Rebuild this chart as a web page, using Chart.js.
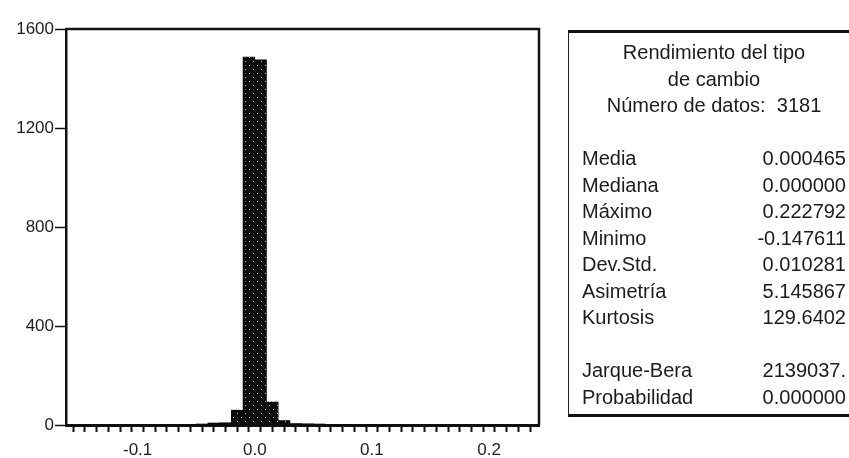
<!DOCTYPE html>
<html>
<head>
<meta charset="utf-8">
<script src="https://cdn.jsdelivr.net/npm/chart.js@4.4.1/dist/chart.umd.min.js"></script>
<style>
    html, body { margin: 0; padding: 0; background: #fff; overflow: hidden; }
    #wrap { position: absolute; left: 0; top: 0; width: 849px; height: 458px; }
    #stats {
        position: absolute; left: 568px; top: 30px; width: 296px; height: 387px;
        box-sizing: border-box; border-left: 1.5px solid #222; border-top: 3px solid #111;
        border-bottom: 3px solid #111; border-right: 1px solid #222;
        font-family: "Liberation Sans", Arial, sans-serif; font-size: 20px; color: #1c1c1c;
        padding: 6px 17px 0 13px;
    }
    #stats .title { text-align: center; line-height: 26.5px; }
    #stats .rows { margin-top: 26.5px; }
    #stats .row { display: flex; justify-content: space-between; line-height: 26.5px; height: 26.5px; }
    #stats .gap { height: 26.5px; }
</style>
</head>
<body>
<div id="wrap"><canvas id="myChart"></canvas></div>
<div id="stats"></div>
<script>
// histogram bins (left edge), width 0.01
var binEdges = [-0.15, -0.14, -0.13, -0.12, -0.11, -0.10, -0.09, -0.08, -0.07, -0.06,
                -0.05, -0.04, -0.03, -0.02, -0.01, 0.00, 0.01, 0.02, 0.03, 0.04,
                0.05, 0.06, 0.07, 0.08, 0.09, 0.10, 0.11, 0.12, 0.13, 0.14,
                0.15, 0.16, 0.17, 0.18, 0.19, 0.20, 0.21, 0.22];
var counts = [1, 0, 0, 0, 0, 0, 1, 0, 1, 2,
              4, 8, 9, 60, 1487, 1475, 93, 18, 6, 5,
              4, 2, 2, 1, 1, 0, 1, 0, 0, 0,
              0, 0, 0, 0, 0, 0, 0, 1];
var yTicks = [0, 400, 800, 1200, 1600];
var xLabels = [-0.1, 0.0, 0.1, 0.2];

var titleLines = ['Rendimiento del tipo', 'de cambio', 'Número de datos:  3181'];
var statNames = ['Media', 'Mediana', 'Máximo', 'Minimo', 'Dev.Std.', 'Asimetría', 'Kurtosis'];
var statValues = ['0.000465', '0.000000', '0.222792', '-0.147611', '0.010281', '5.145867', '129.6402'];
var testNames = ['Jarque-Bera', 'Probabilidad'];
var testValues = ['2139037.', '0.000000'];

window.addEventListener('DOMContentLoaded', function() {
    // stats box
    var box = document.getElementById('stats');
    var html = '<div class="title">' + titleLines.join('<br>').replace(/  /g, ' &nbsp;') + '</div><div class="rows">';
    for (var i = 0; i < statNames.length; i++) {
        html += '<div class="row"><span>' + statNames[i] + '</span><span>' + statValues[i] + '</span></div>';
    }
    html += '<div class="gap"></div>';
    for (var j = 0; j < testNames.length; j++) {
        html += '<div class="row"><span>' + testNames[j] + '</span><span>' + testValues[j] + '</span></div>';
    }
    box.innerHTML = html + '</div>';

    // speckled fill like the scanned bars
    var pc = document.createElement('canvas');
    pc.width = 8; pc.height = 8;
    var p = pc.getContext('2d');
    p.fillStyle = '#0a0a0a';
    p.fillRect(0, 0, 8, 8);
    p.fillStyle = 'rgba(255,255,255,0.75)';
    p.fillRect(1, 1, 1, 1);
    p.fillRect(5, 5, 1, 1);
    p.fillStyle = 'rgba(255,255,255,0.35)';
    p.fillRect(5, 1, 1, 1);
    var speckle = p.createPattern(pc, 'repeat');

    var points = binEdges.map(function(e, k) {
        return { x: e + 0.005, y: counts[k] };
    });

    var framePlugin = {
        id: 'frame',
        afterDraw: function(chart) {
            var a = chart.chartArea, c = chart.ctx;
            c.save();
            c.strokeStyle = '#111';
            c.lineWidth = 2.5;
            c.beginPath();
            c.moveTo(a.left, a.top);
            c.lineTo(a.right, a.top);
            c.lineTo(a.right, a.bottom);
            c.stroke();
            c.restore();
        }
    };

    var ctx = document.getElementById('myChart');
    new Chart(ctx, {
        type: 'bar',
        data: {
            datasets: [{
                data: points,
                backgroundColor: speckle,
                borderWidth: 0,
                barPercentage: 1,
                categoryPercentage: 1
            }]
        },
        options: {
            responsive: true,
            maintainAspectRatio: false,
            animation: false,
            layout: { padding: { top: 29, right: 310, left: 0, bottom: 0 } },
            plugins: { legend: { display: false }, tooltip: { enabled: false } },
            scales: {
                x: {
                    type: 'linear',
                    min: -0.156,
                    max: 0.2375,
                    afterFit: function(s) { s.height = 33; },
                    border: { display: true, color: '#111', width: 3 },
                    grid: { drawOnChartArea: false, tickLength: 7, tickWidth: 2, tickColor: '#111' },
                    ticks: {
                        stepSize: 0.01,
                        includeBounds: false,
                        autoSkip: false,
                        maxRotation: 0,
                        padding: 8,
                        color: '#1c1c1c',
                        font: { family: '"Liberation Sans", Arial, sans-serif', size: 17 },
                        callback: function(v) {
                            for (var m = 0; m < xLabels.length; m++) {
                                if (Math.abs(v - xLabels[m]) < 1e-6) return xLabels[m].toFixed(1);
                            }
                            return '';
                        }
                    }
                },
                y: {
                    min: 0,
                    max: 1600,
                    afterFit: function(s) { s.width = 66; },
                    afterBuildTicks: function(s) { s.ticks = yTicks.map(function(v) { return { value: v }; }); },
                    border: { display: true, color: '#111', width: 2.5 },
                    grid: { drawOnChartArea: false, tickLength: 11, tickWidth: 1.5, tickColor: '#111' },
                    ticks: {
                        padding: 1,
                        color: '#1c1c1c',
                        font: { family: '"Liberation Sans", Arial, sans-serif', size: 17 },
                        callback: function(v) { return String(v); }
                    }
                }
            }
        },
        plugins: [framePlugin]
    });
});
</script>
</body>
</html>
